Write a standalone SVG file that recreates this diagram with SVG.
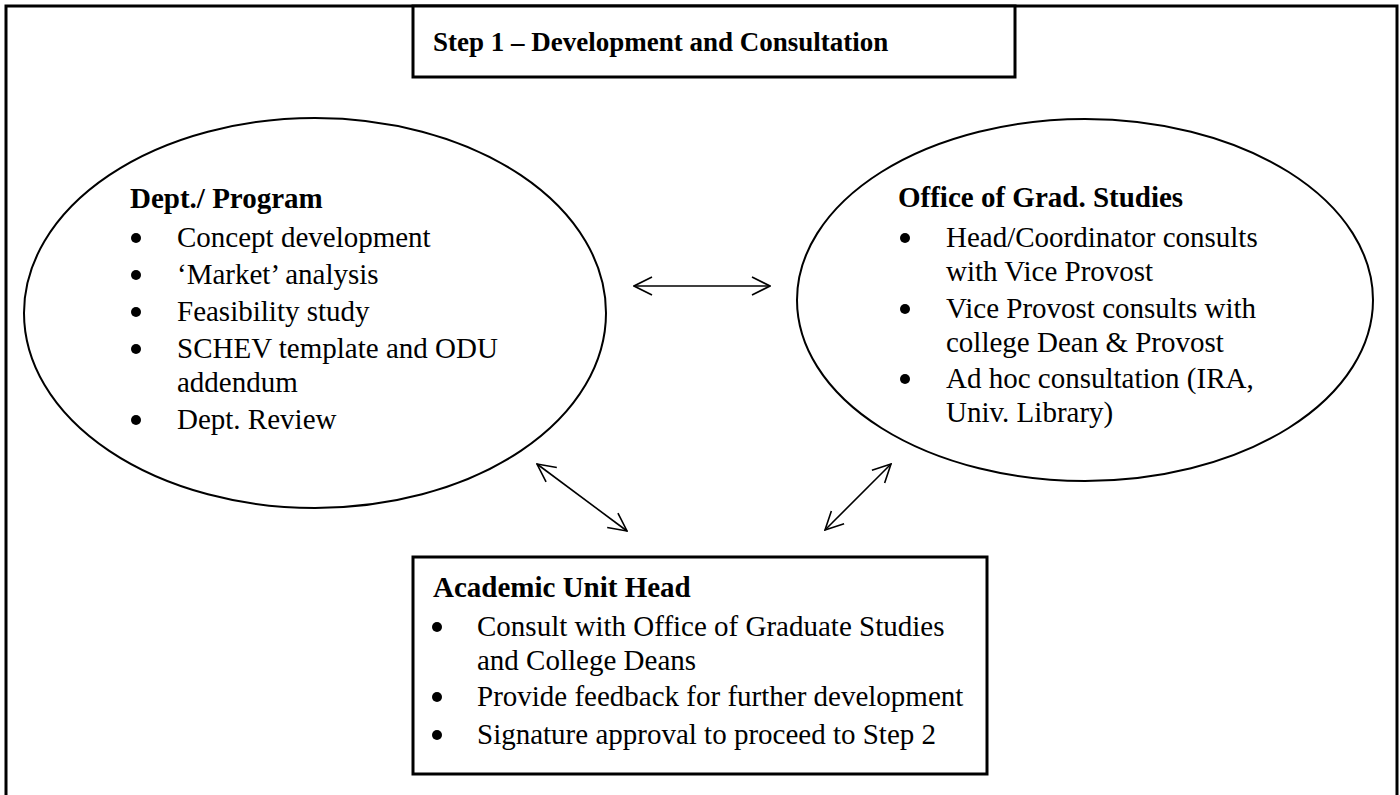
<svg xmlns="http://www.w3.org/2000/svg" width="1400" height="795" viewBox="0 0 1400 795">
<defs>
<style>
.frame{fill:none;stroke:#000;stroke-width:3}
.box{fill:#fff;stroke:#000;stroke-width:3}
.ell{fill:#fff;stroke:#000;stroke-width:2}
.conn{fill:none;stroke:#000;stroke-width:1.6}
.ti{font-family:"Liberation Serif","Times New Roman",serif;font-weight:bold;font-size:27px;fill:#000}
.h{font-family:"Liberation Serif","Times New Roman",serif;font-weight:bold;font-size:29px;fill:#000}
.t{font-family:"Liberation Serif","Times New Roman",serif;font-size:29px;fill:#000}
.b{fill:#000}
</style>
<marker id="ah" viewBox="0 0 20 20" refX="19" refY="10" markerWidth="20" markerHeight="20" markerUnits="userSpaceOnUse" orient="auto-start-reverse">
<path d="M1,1 L19,10 L1,19" fill="none" stroke="#000" stroke-width="1.6"/>
</marker>
</defs>
<rect width="1400" height="795" fill="#fff"/>
<rect class="frame" x="6" y="6" width="1391" height="800"/>
<g id="title">
<rect class="box" x="413" y="6" width="602" height="71"/>
<text class="ti" x="433" y="51">Step 1 – Development and Consultation</text>
</g>
<g id="dept">
<ellipse class="ell" cx="315" cy="313" rx="291" ry="195"/>
<text class="h" x="130" y="208">Dept./ Program</text>
<circle class="b" cx="136" cy="238" r="5"/><text class="t" x="177" y="247">Concept development</text>
<circle class="b" cx="136" cy="275" r="5"/><text class="t" x="177" y="284">‘Market’ analysis</text>
<circle class="b" cx="136" cy="312" r="5"/><text class="t" x="177" y="321">Feasibility study</text>
<circle class="b" cx="136" cy="349" r="5"/><text class="t" x="177" y="358">SCHEV template and ODU</text>
<text class="t" x="177" y="392">addendum</text>
<circle class="b" cx="136" cy="420" r="5"/><text class="t" x="177" y="429">Dept. Review</text>
</g>
<g id="ogs">
<ellipse class="ell" cx="1085" cy="300" rx="288" ry="181"/>
<text class="h" x="898" y="207">Office of Grad. Studies</text>
<circle class="b" cx="905" cy="238" r="5"/><text class="t" x="946" y="247">Head/Coordinator consults</text>
<text class="t" x="946" y="281">with Vice Provost</text>
<circle class="b" cx="905" cy="309" r="5"/><text class="t" x="946" y="318">Vice Provost consults with</text>
<text class="t" x="946" y="352">college Dean &amp; Provost</text>
<circle class="b" cx="905" cy="379" r="5"/><text class="t" x="946" y="388">Ad hoc consultation (IRA,</text>
<text class="t" x="946" y="422">Univ. Library)</text>
</g>
<g id="auh">
<rect class="box" x="413" y="557" width="574" height="217"/>
<text class="h" x="433" y="597">Academic Unit Head</text>
<circle class="b" cx="437" cy="627" r="5"/><text class="t" x="477" y="636">Consult with Office of Graduate Studies</text>
<text class="t" x="477" y="670">and College Deans</text>
<circle class="b" cx="437" cy="697" r="5"/><text class="t" x="477" y="706">Provide feedback for further development</text>
<circle class="b" cx="437" cy="735" r="5"/><text class="t" x="477" y="744">Signature approval to proceed to Step 2</text>
</g>
<g id="connectors">
<line class="conn" x1="634" y1="286" x2="770" y2="286" marker-start="url(#ah)" marker-end="url(#ah)"/>
<line class="conn" x1="537" y1="464" x2="627" y2="531" marker-start="url(#ah)" marker-end="url(#ah)"/>
<line class="conn" x1="891" y1="464" x2="825" y2="530" marker-start="url(#ah)" marker-end="url(#ah)"/>
</g>
</svg>
